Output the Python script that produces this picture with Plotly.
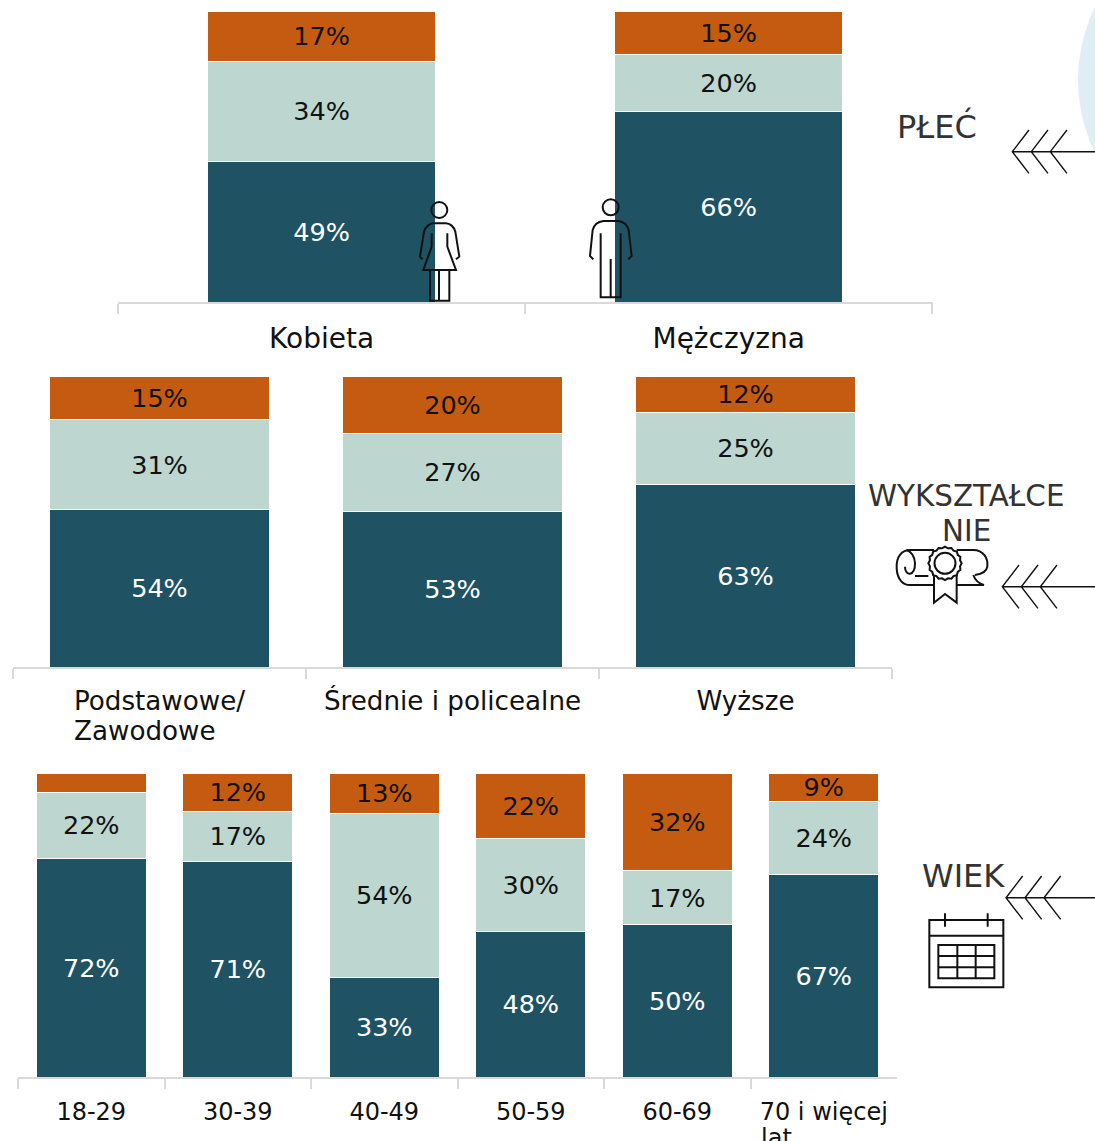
import math
import re
import plotly.graph_objects as go

W, H = 1095, 1141
TEAL, MINT, ORANGE = "#1F5364", "#BDD6CF", "#C55A11"
GRID = "#D9D9D9"
INK = "#111111"

# ---- data ----
gender_cats = ["Kobieta", "Mężczyzna"]
gender_low = [48.45, 65.6]
gender_mid = [34.05, 19.6]
gender_top = [17.5, 14.8]
gender_low_lbl = ["49%", "66%"]
gender_mid_lbl = ["34%", "20%"]
gender_top_lbl = ["17%", "15%"]

edu_cats = ["Podstawowe/", "Średnie i policealne", "Wyższe"]
edu_low = [54.0, 53.4, 62.8]
edu_mid = [30.9, 27.0, 24.8]
edu_top = [15.1, 19.6, 12.4]
edu_low_lbl = ["54%", "53%", "63%"]
edu_mid_lbl = ["31%", "27%", "25%"]
edu_top_lbl = ["15%", "20%", "12%"]

age_cats = ["18-29", "30-39", "40-49", "50-59", "60-69", "70 i więcej"]
age_low = [72.0, 71.0, 32.7, 47.9, 50.2, 66.7]
age_mid = [21.75, 16.5, 54.1, 30.4, 17.6, 23.8]
age_top = [6.25, 12.5, 13.2, 21.7, 32.2, 9.5]
age_low_lbl = ["72%", "71%", "33%", "48%", "50%", "67%"]
age_mid_lbl = ["22%", "17%", "54%", "30%", "17%", "24%"]
age_top_lbl = ["", "12%", "13%", "22%", "32%", "9%"]

panels = [
    dict(ax="", cats=gender_cats, x=(118, 933), y=(11, 302), width=0.5595, tick=28, standoff=10, xmax=1.502,
         series=[(gender_low, gender_low_lbl), (gender_mid, gender_mid_lbl), (gender_top, gender_top_lbl)]),
    dict(ax="2", cats=edu_cats, x=(13, 892), y=(376, 667), width=0.754, tick=26.2, standoff=10, xmax=2.5,
         series=[(edu_low, edu_low_lbl), (edu_mid, edu_mid_lbl), (edu_top, edu_top_lbl)]),
    dict(ax="3", cats=age_cats, x=(18, 897), y=(773, 1077), width=0.751, tick=24, standoff=12, xmax=5.5,
         series=[(age_low, age_low_lbl), (age_mid, age_mid_lbl), (age_top, age_top_lbl)]),
]

fig = go.Figure()
layout = dict(
    width=W, height=H, margin=dict(l=0, r=0, t=0, b=0, pad=0),
    paper_bgcolor="white", plot_bgcolor="rgba(0,0,0,0)",
    barmode="stack", showlegend=False,
    font=dict(family="DejaVu Sans", color=INK),
)

fills = [TEAL, MINT, ORANGE]
text_colors = ["white", INK, INK]
for p in panels:
    for (vals, lbls), fill, tc in zip(p["series"], fills, text_colors):
        fig.add_trace(go.Bar(
            x=p["cats"], y=vals, text=lbls, textposition="inside", width=p["width"],
            insidetextanchor="middle", textangle=0, constraintext="none",
            textfont=dict(family="DejaVu Sans", size=25.5, color=tc),
            marker=dict(color=fill, line=dict(color="white", width=1)),
            xaxis="x" + p["ax"], yaxis="y" + p["ax"], hoverinfo="skip", cliponaxis=False,
        ))
    layout["xaxis" + p["ax"]] = dict(
        domain=[p["x"][0] / W, p["x"][1] / W], anchor="y" + p["ax"],
        type="category", range=[-0.5, p["xmax"]],
        showgrid=False, zeroline=False, showline=True, linecolor=GRID, linewidth=2,
        ticks="outside", tickson="boundaries", ticklen=10, tickwidth=2, tickcolor=GRID,
        tickangle=0, tickfont=dict(family="DejaVu Sans", size=p["tick"], color=INK),
        ticklabelstandoff=p["standoff"], automargin=False,
    )
    layout["yaxis" + p["ax"]] = dict(
        domain=[1 - p["y"][1] / H, 1 - p["y"][0] / H], anchor="x" + p["ax"],
        range=[0, 100.01], visible=False, automargin=False,
    )


def px_path(ox, oy, spec, scale=3.0):
    """Path given in zoomed-crop coordinates -> paper coordinates."""
    out, xy = [], []
    for tok in re.findall(r"[A-Za-z]|-?\d+\.?\d*", spec):
        if tok.isalpha():
            out.append(tok)
        else:
            xy.append(float(tok))
            if len(xy) == 2:
                out.append(f"{(ox + xy[0] / scale) / W:.5f},{1 - (oy + xy[1] / scale) / H:.5f}")
                xy = []
    return " ".join(out)


shapes = []


def line_path(ox, oy, spec, width=2, fill=None):
    shapes.append(dict(type="path", xref="paper", yref="paper", path=px_path(ox, oy, spec),
                       fillcolor=fill, line=dict(color=INK, width=width), layer="above"))


def circle(cx, cy, r, width=2, fill=None, layer="above", line=True):
    shapes.append(dict(type="circle", xref="paper", yref="paper",
                       x0=(cx - r) / W, x1=(cx + r) / W, y0=1 - (cy + r) / H, y1=1 - (cy - r) / H,
                       fillcolor=fill, layer=layer,
                       line=dict(color=INK, width=width) if line else dict(width=0)))


# pale disc, top right
circle(1243, 80, 165, fill="#DFEEF5", layer="below", line=False)

# woman
circle(439.3, 210, 8)
line_path(400, 190, "M 68 208 L 60 200 L 72 125 C 76 110 90 100 100 100 L 138 100 C 150 100 162 110 166 125 L 178 200 L 168 208")
line_path(400, 190, "M 95 130 L 95 170 L 70 240 L 168 240 L 142 170 L 142 130")
line_path(400, 190, "M 90 240 L 90 332 L 148 332 L 148 240 M 117 240 L 117 332")
# man
circle(610.7, 207.3, 8)
line_path(400, 190, "M 580 208 L 570 198 L 578 120 C 582 105 595 95 610 93 L 655 93 C 670 95 682 105 686 120 L 695 198 L 685 208")
line_path(400, 190, "M 602 130 L 602 322 L 662 322 L 662 130 M 632 207 L 632 322")

# arrows
for tip_x, tip_y in [(1012.3, 151.7), (1002.3, 586.7), (1006, 897.7)]:
    segs = [f"M {tip_x * 3} {tip_y * 3} L {1095 * 3} {tip_y * 3}"]
    for k in range(3):
        tx = (tip_x + 19 * k) * 3
        segs.append(f"M {tx + 50} {tip_y * 3 - 65} L {tx} {tip_y * 3} L {tx + 50} {tip_y * 3 + 65}")
    line_path(0, 0, " ".join(segs), width=1.4)

# diploma
line_path(860, 470, "M 155 240 C 125 238 108 260 110 295 C 112 330 130 345 150 345 L 222 345")
line_path(860, 470, "M 135 290 C 135 320 165 320 165 280 C 165 260 152 243 140 240")
line_path(860, 470, "M 150 240 L 222 240 M 290 240 L 340 240 C 370 240 385 265 382 290 C 380 305 365 312 345 315")
line_path(860, 470, "M 165 318 L 205 318 M 340 315 C 345 330 355 340 372 345 L 290 345")
line_path(860, 470, "M 222 310 L 222 398 L 255 372 L 290 398 L 290 315")
scallop = []
for i in range(32):
    a = 2 * math.pi * i / 32
    r = 50 if i % 2 == 0 else 46
    scallop.append(f"{'M' if i == 0 else 'L'} {255 + r * math.cos(a):.1f} {280 + r * math.sin(a):.1f}")
line_path(860, 470, " ".join(scallop) + " Z", fill="white")
circle(860 + 255 / 3, 470 + 280 / 3, 10.5)

# calendar
line_path(880, 850, "M 148 210 L 370 210 L 370 412 L 148 412 Z M 148 257 L 370 257")
line_path(880, 850, "M 195 190 L 195 230 M 323 190 L 323 230")
line_path(880, 850, "M 175 285 L 343 285 L 343 385 L 175 385 Z M 175 318 L 343 318 M 175 352 L 343 352 M 232 285 L 232 385 M 287 285 L 287 385")

layout["shapes"] = shapes

heading = dict(xref="paper", yref="paper", showarrow=False, xanchor="center", yanchor="middle")
headings = [("PŁEĆ", 937, 126, 32), ("WYKSZTAŁCE", 966, 496, 29.4), ("NIE", 966.5, 531, 29.4), ("WIEK", 963, 876, 32)]
notes = [dict(text=t, x=x / W, y=1 - y / H, font=dict(family="DejaVu Sans", size=s, color="#333333"), **heading)
         for t, x, y, s in headings]
# second lines of the wrapped, left-aligned category labels
wrapped = [("Zawodowe", 72, 731, 26.2), ("lat", 759, 1138, 24)]
notes += [dict(text=t, x=x / W, y=1 - y / H, xref="paper", yref="paper", showarrow=False,
               xanchor="left", yanchor="middle", font=dict(family="DejaVu Sans", size=s, color=INK))
          for t, x, y, s in wrapped]
layout["annotations"] = notes

fig.update_layout(**layout)
fig.write_html("out.html", config={"displayModeBar": False},
               post_script="document.body.style.margin='0';document.body.style.overflow='hidden';")
